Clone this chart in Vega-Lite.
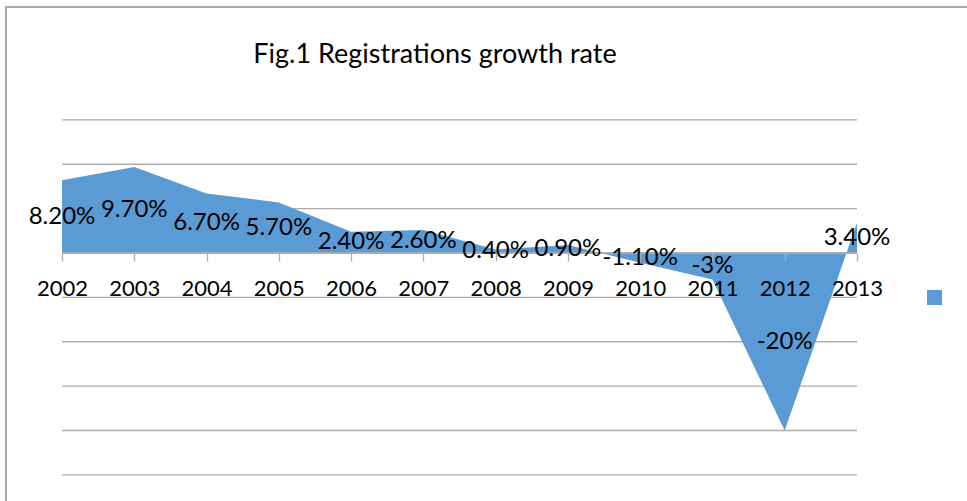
{
  "$schema": "https://vega.github.io/schema/vega-lite/v6.json",
  "autosize": "none",
  "padding": {"left": 6, "top": 7, "right": 0, "bottom": 0},
  "width": 975,
  "height": 503,
  "background": "white",
  "config": {
    "font": "Lato",
    "view": {"stroke": "#aaaaaa", "strokeWidth": 2}
  },
  "title": {
    "text": "Fig.1 Registrations growth rate",
    "font": "Lato",
    "fontSize": 27,
    "fontWeight": "normal",
    "color": "black",
    "anchor": "middle",
    "frame": "group",
    "baseline": "alphabetic",
    "offset": 0,
    "dx": -58.5,
    "dy": 83
  },
  "data": {
    "values": [
      {"year": 2002, "value": 8.2, "label": "8.20%"},
      {"year": 2003, "value": 9.7, "label": "9.70%"},
      {"year": 2004, "value": 6.7, "label": "6.70%"},
      {"year": 2005, "value": 5.7, "label": "5.70%"},
      {"year": 2006, "value": 2.4, "label": "2.40%"},
      {"year": 2007, "value": 2.6, "label": "2.60%"},
      {"year": 2008, "value": 0.4, "label": "0.40%"},
      {"year": 2009, "value": 0.9, "label": "0.90%"},
      {"year": 2010, "value": -1.1, "label": "-1.10%"},
      {"year": 2011, "value": -3, "label": "-3%"},
      {"year": 2012, "value": -20, "label": "-20%"},
      {"year": 2013, "value": 3.4, "label": "3.40%"}
    ]
  },
  "layer": [
    {
      "data": {"values": [{"g": 15}, {"g": 10}, {"g": 5}, {"g": -5}, {"g": -10}, {"g": -15}, {"g": -20}, {"g": -25}]},
      "mark": {"type": "rule", "color": "#ababab", "strokeWidth": 1.3},
      "encoding": {
        "y": {"field": "g", "type": "quantitative", "scale": {"domain": [-28.958, 27.718], "nice": false, "zero": false}, "axis": null},
        "x": {"datum": 2002, "type": "quantitative", "scale": {"domain": [2001.2251, 2014.7162], "nice": false, "zero": false}},
        "x2": {"datum": 2013}
      }
    },
    {
      "mark": {"type": "area", "opacity": 1},
      "encoding": {
        "x": {
          "field": "year",
          "type": "quantitative",
          "axis": {
            "orient": "bottom",
            "offset": -257,
            "values": [2002, 2003, 2004, 2005, 2006, 2007, 2008, 2009, 2010, 2011, 2012, 2013],
            "format": "d",
            "title": null,
            "grid": false,
            "domain": false,
            "ticks": true,
            "tickColor": "#ababab",
            "tickWidth": 1.3,
            "tickSize": 8,
            "labelFont": "Lato",
            "labelFontSize": 22,
            "labelColor": "black",
            "labelPadding": 17,
            "labelFlush": false,
            "labelOverlap": false,
            "zindex": 1
          }
        },
        "y": {"field": "value", "type": "quantitative", "axis": null},
        "color": {
          "datum": "Growth rate",
          "scale": {"range": ["#5b9bd5"]},
          "legend": {
            "orient": "none",
            "legendX": 921,
            "legendY": 283,
            "title": null,
            "padding": 0,
            "symbolType": "square",
            "symbolSize": 225,
            "symbolStrokeWidth": 0,
            "symbolOpacity": 1,
            "labelExpr": "''"
          }
        }
      }
    },
    {
      "mark": {"type": "rule", "color": "#ababab", "strokeWidth": 1.3},
      "encoding": {
        "y": {"datum": 0, "type": "quantitative"},
        "x": {"datum": 2002, "type": "quantitative"},
        "x2": {"datum": 2013}
      }
    },
    {
      "mark": {"type": "text", "font": "Lato", "fontSize": 24, "color": "black", "align": "center", "baseline": "middle", "dy": {"expr": "datum.value * 4.4375"}},
      "encoding": {
        "x": {"field": "year", "type": "quantitative"},
        "y": {"field": "value", "type": "quantitative"},
        "text": {"field": "label"}
      }
    }
  ]
}
